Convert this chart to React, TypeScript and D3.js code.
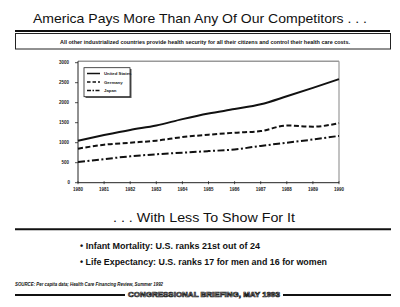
import React from "react";
import * as d3 from "d3";

const years = [1980, 1981, 1982, 1983, 1984, 1985, 1986, 1987, 1988, 1989, 1990];
const unitedStates = [1050, 1190, 1320, 1430, 1590, 1730, 1840, 1960, 2160, 2370, 2590];
const germany = [850, 950, 1000, 1050, 1140, 1200, 1250, 1290, 1430, 1400, 1490];
const japan = [520, 590, 660, 710, 750, 790, 830, 920, 1000, 1080, 1170];
const yTicks = [0, 500, 1000, 1500, 2000, 2500, 3000];
const seriesNames = ["United States", "Germany", "Japan"];

const W = 400;
const H = 307;
const plot = { left: 78, right: 339, top: 62.7, bottom: 182.7 };

export default function App() {
  const x = d3.scaleLinear().domain([1980, 1990]).range([plot.left, plot.right]);
  const y = d3.scaleLinear().domain([0, 3000]).range([plot.bottom, plot.top]);
  const line = d3
    .line<number>()
    .x((_, i) => x(years[i]))
    .y((d) => y(d))
    .curve(d3.curveMonotoneX);

  const series = [
    { name: seriesNames[0], values: unitedStates, dash: "none", legendDash: "none" },
    { name: seriesNames[1], values: germany, dash: "5,2.5", legendDash: "3.5,2" },
    { name: seriesNames[2], values: japan, dash: "7,2.5,2,2.5", legendDash: "4,1.5,1.5,1.5" },
  ];

  const sans = "Liberation Sans, Arial, sans-serif";
  const narrow = "Liberation Sans Narrow, Liberation Sans, Arial, sans-serif";

  return (
    <svg
      width={W}
      height={H}
      viewBox={`0 0 ${W} ${H}`}
      style={{ position: "absolute", left: 0, top: 0, background: "#fff" }}
    >
      <rect x={0} y={0} width={W} height={H} fill="#fff" />

      {/* Heading */}
      <text
        x={200}
        y={22.5}
        textAnchor="middle"
        fontFamily={sans}
        fontSize={13.5}
        textLength={334}
        lengthAdjust="spacingAndGlyphs"
        fill="#111"
      >
        America Pays More Than Any Of Our Competitors . . .
      </text>
      <line x1={15} x2={390} y1={31} y2={31} stroke="#111" strokeWidth={2} />
      <rect x={15.5} y={33.5} width={375} height={15.5} fill="none" stroke="#222" strokeWidth={1} />
      <text
        x={205}
        y={43.8}
        textAnchor="middle"
        fontFamily={narrow}
        fontWeight="bold"
        fontSize={6.2}
        textLength={290}
        lengthAdjust="spacingAndGlyphs"
        fill="#111"
      >
        All other industrialized countries provide health security for all their citizens and control their health care costs.
      </text>

      {/* Plot frame */}
      <line x1={plot.left} x2={plot.right} y1={plot.top - 1.5} y2={plot.top - 1.5} stroke="#999" strokeWidth={1.5} />
      <line x1={plot.right} x2={plot.right} y1={plot.top - 1.5} y2={plot.bottom} stroke="#999" strokeWidth={1.2} />
      <line x1={plot.left} x2={plot.left} y1={plot.top - 1.5} y2={plot.bottom} stroke="#222" strokeWidth={1} />
      <line x1={plot.left} x2={plot.right} y1={plot.bottom} y2={plot.bottom} stroke="#222" strokeWidth={1} />

      {/* Y axis ticks */}
      {yTicks.map((t) => (
        <g key={t}>
          <line x1={plot.left - 3} x2={plot.left} y1={y(t)} y2={y(t)} stroke="#222" strokeWidth={0.8} />
          <text
            x={t === 0 ? 70 : 69}
            y={y(t) + 1.6}
            textAnchor="end"
            fontFamily={narrow}
            fontWeight="bold"
            fontSize={4.5}
            fill="#222"
          >
            {String(t)}
          </text>
        </g>
      ))}

      {/* X axis ticks */}
      {years.map((yr) => (
        <g key={yr}>
          <line x1={x(yr)} x2={x(yr)} y1={plot.bottom - 1.5} y2={plot.bottom + 1.5} stroke="#222" strokeWidth={0.8} />
          <text
            x={x(yr)}
            y={191}
            textAnchor="middle"
            fontFamily={narrow}
            fontWeight="bold"
            fontSize={4.5}
            fill="#222"
          >
            {yr}
          </text>
        </g>
      ))}

      {/* Series */}
      {series.map((s) => (
        <path
          key={s.name}
          d={line(s.values) || ""}
          fill="none"
          stroke="#111"
          strokeWidth={2}
          strokeDasharray={s.dash}
        />
      ))}

      {/* Legend */}
      <rect x={85.5} y={69} width={46} height={29} fill="#555" />
      <rect x={84} y={67.7} width={46} height={29} fill="#fff" stroke="#222" strokeWidth={0.8} />
      {series.map((s, i) => {
        const ly = 73.5 + i * 8.5;
        return (
          <g key={s.name}>
            <line x1={87} x2={100} y1={ly} y2={ly} stroke="#111" strokeWidth={1.5} strokeDasharray={s.legendDash} />
            <text x={104} y={ly + 1.5} fontFamily={narrow} fontWeight="bold" fontSize={4.3} fill="#222">
              {s.name}
            </text>
          </g>
        );
      })}

      {/* Second heading */}
      <text
        x={204}
        y={221.5}
        textAnchor="middle"
        fontFamily={sans}
        fontSize={13.5}
        textLength={182}
        lengthAdjust="spacingAndGlyphs"
        fill="#111"
      >
        . . . With Less To Show For It
      </text>
      <line x1={15} x2={391} y1={229.3} y2={229.3} stroke="#111" strokeWidth={2} />

      <text
        x={80}
        y={249}
        fontFamily={narrow}
        fontWeight="bold"
        fontSize={9}
        textLength={180}
        lengthAdjust="spacingAndGlyphs"
        fill="#111"
      >
        • Infant Mortality: U.S. ranks 21st out of 24
      </text>
      <text
        x={80}
        y={265}
        fontFamily={narrow}
        fontWeight="bold"
        fontSize={9}
        textLength={247}
        lengthAdjust="spacingAndGlyphs"
        fill="#111"
      >
        • Life Expectancy: U.S. ranks 17 for men and 16 for women
      </text>

      {/* Footer */}
      <text
        x={15}
        y={285.5}
        fontFamily={narrow}
        fontStyle="italic"
        fontWeight="bold"
        fontSize={4.6}
        textLength={148}
        lengthAdjust="spacingAndGlyphs"
        fill="#111"
      >
        SOURCE: Per capita data; Health Care Financing Review, Summer 1992
      </text>
      <line x1={15} x2={125} y1={295} y2={295} stroke="#111" strokeWidth={2} />
      <line x1={283} x2={391} y1={295} y2={295} stroke="#111" strokeWidth={2} />
      <text
        x={128}
        y={297}
        fontFamily={sans}
        fontWeight="bold"
        fontSize={7}
        textLength={152}
        lengthAdjust="spacingAndGlyphs"
        fill="#fff"
        stroke="#222"
        strokeWidth={0.7}
      >
        CONGRESSIONAL BRIEFING, MAY 1993
      </text>
    </svg>
  );
}
